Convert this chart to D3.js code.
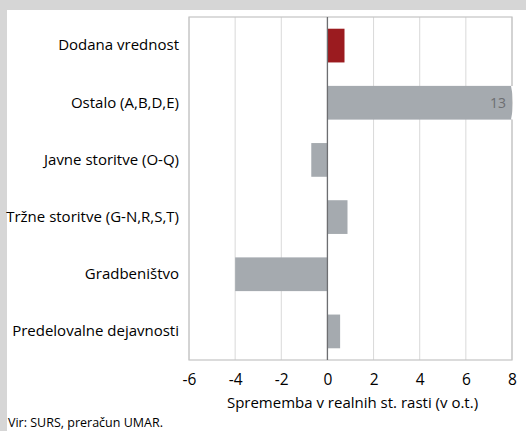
<!DOCTYPE html>
<html>
<head>
<meta charset="utf-8">
<script src="https://cdn.jsdelivr.net/npm/d3@7"></script>
<style>
  body { margin: 0; background: #d6d6d6; }
  svg { display: block; font-family: "Open Sans", "Noto Sans", sans-serif; }
</style>
</head>
<body>
<svg id="chart" width="526" height="431"></svg>
<script>
const categories = ["Dodana vrednost", "Ostalo (A,B,D,E)", "Javne storitve (O-Q)",
  "Tržne storitve (G-N,R,S,T)", "Gradbeništvo", "Predelovalne dejavnosti"];
const values = [0.74, 13, -0.7, 0.87, -4.0, 0.55];
const barColors = ["#9b1b1f", "#a5aaaf", "#a5aaaf", "#a5aaaf", "#a5aaaf", "#a5aaaf"];
const xTicks = [-6, -4, -2, 0, 2, 4, 6, 8];
const xTitle = "Sprememba v realnih st. rasti (v o.t.)";
const source = "Vir: SURS, preračun UMAR.";

const width = 526, height = 431;
const margin = {top: 17, right: 14, bottom: 71, left: 189};
const svg = d3.select("#chart");

// white panel
svg.append("rect").attr("x", 7).attr("y", 10)
  .attr("width", width - 7).attr("height", height - 10).attr("fill", "#fff");

const x = d3.scaleLinear().domain([-6, 8])
  .range([margin.left, width - margin.right]);
const y = d3.scaleBand().domain(categories)
  .range([margin.top, height - margin.bottom]).paddingInner(0.41).paddingOuter(0.205);

// grid
svg.append("g").selectAll("line").data(xTicks).join("line")
  .attr("x1", d => x(d)).attr("x2", d => x(d))
  .attr("y1", margin.top).attr("y2", height - margin.bottom)
  .attr("stroke", "#d9d9d9").attr("stroke-width", 1);

// frame
svg.append("rect").attr("x", x(-6)).attr("y", margin.top)
  .attr("width", x(8) - x(-6)).attr("height", height - margin.bottom - margin.top)
  .attr("fill", "none").attr("stroke", "#c4c4c4").attr("stroke-width", 1.2);

// bars, clipped at the axis max
svg.append("g").selectAll("rect").data(values).join("rect")
  .attr("x", d => x(Math.min(0, d)))
  .attr("y", (d, i) => y(categories[i]))
  .attr("width", d => Math.abs(x(Math.min(d, 8)) - x(0)))
  .attr("height", y.bandwidth())
  .attr("fill", (d, i) => barColors[i]);

// break mark on clipped bar
values.forEach((d, i) => {
  if (d > 8) {
    const bx = x(8), by = y(categories[i]), bh = y.bandwidth();
    svg.append("path")
      .attr("d", `M${bx - 1},${by} Q${bx + 3},${by + bh / 2} ${bx - 1},${by + bh} L${bx + 3},${by + bh} L${bx + 3},${by} Z`)
      .attr("fill", "#fff");
    svg.append("text").attr("x", bx - 6).attr("y", by + bh / 2)
      .attr("dy", "0.35em").attr("text-anchor", "end")
      .attr("font-size", 14).attr("fill", "#6d6e71").text(d);
  }
});

// zero line
svg.append("line").attr("x1", x(0)).attr("x2", x(0))
  .attr("y1", margin.top).attr("y2", height - margin.bottom)
  .attr("stroke", "#6d6e71").attr("stroke-width", 1.3);

// x axis labels
const xAxis = d3.axisBottom(x).tickValues(xTicks).tickFormat(d => String(d))
  .tickSize(0).tickPadding(14);
const gx = svg.append("g").attr("transform", `translate(0,${height - margin.bottom})`).call(xAxis);
gx.select(".domain").remove();
gx.selectAll("text").attr("font-size", 15.5).attr("fill", "#000")
  .attr("font-family", "'Open Sans', sans-serif");

// y labels
const yAxis = d3.axisLeft(y).tickSize(0).tickPadding(10);
const gy = svg.append("g").attr("transform", `translate(${margin.left},0)`).call(yAxis);
gy.select(".domain").remove();
gy.selectAll("text").attr("font-size", 15).attr("fill", "#000")
  .attr("font-family", "'Open Sans', sans-serif");

svg.append("text").attr("x", (x(-6) + x(8)) / 2 + 2).attr("y", 408)
  .attr("text-anchor", "middle").attr("font-size", 15).text(xTitle);

svg.append("text").attr("x", 8).attr("y", 427)
  .attr("font-size", 12.5).text(source);
</script>
</body>
</html>
